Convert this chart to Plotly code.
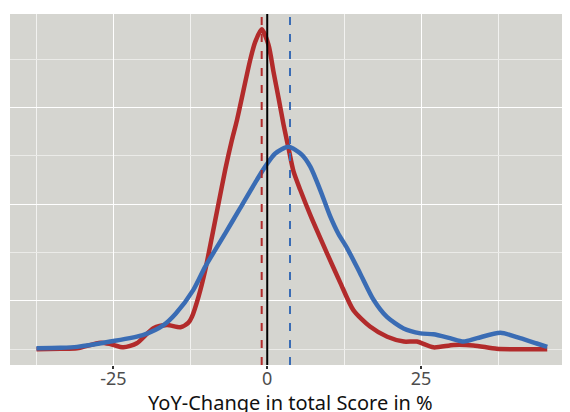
import plotly.graph_objects as go

# Density curve for the red group (x in %, y density)
red_x = [-37.5, -33.6, -30.9, -27.1, -25.5, -23.35, -21.2, -18.5, -16.3, -14.1, -12.8,
         -12.24, -11.16, -10.07, -8.98, -7.91, -6.82, -5.74, -4.92, -2.76, -1.95, -0.9,
         0.21, 1.02, 1.84, 2.65, 3.46, 4.27, 5.36, 6.99, 9.7,
         11.9, 14.0, 16.7, 19.5, 22.2, 24.3, 27.0, 30.3, 33.5, 37.3, 41.0, 45.5]
red_y = [0.0, 0.0001, 0.0002, 0.00137, 0.0011, 0.0004, 0.00124, 0.00435, 0.00503, 0.00455, 0.0055,
         0.0067, 0.0109, 0.0164, 0.0233, 0.0302, 0.0372, 0.0433, 0.0474, 0.0599, 0.0636, 0.0662,
         0.0630, 0.0574, 0.0520, 0.0465, 0.0416, 0.0368, 0.0330, 0.0278, 0.0199,
         0.0137, 0.0081, 0.0047, 0.0026, 0.0016, 0.0016, 0.0004, 0.0009, 0.0008, 0.0001, 0.0, 0.0]

# Density curve for the blue group
blue_x = [-37.5, -33.6, -30.9, -25.5, -20.1, -16.85, -14.85, -12.0, -10.07, -6.82, -4.4, -1.95,
          -0.33, 1.3, 3.46, 5.6, 7.0, 8.6, 10.2, 11.6, 12.95, 15.1, 17.3, 19.45, 22.15, 24.9, 27.0,
          29.7, 31.9, 34.1, 37.9, 41.1, 43.8, 45.5]
blue_y = [0.0002, 0.0003, 0.0005, 0.0016, 0.003, 0.005, 0.0074, 0.0123, 0.0171, 0.024, 0.0292, 0.0345,
          0.0378, 0.0405, 0.0419, 0.0403, 0.0378, 0.0330, 0.0276, 0.0238, 0.0210, 0.0157, 0.0102, 0.0067, 0.0043, 0.0033, 0.0031,
          0.0023, 0.0016, 0.0023, 0.0034, 0.0023, 0.0012, 0.0005]

red_mean = -0.9
blue_mean = 3.7
ref_line = 0

x_ticks = [-25, 0, 25]
x_tick_labels = ["-25", "0", "25"]
x_minor = [-37.5, -12.5, 12.5, 37.5]
y_major = [0.01, 0.03, 0.05]
y_minor = [0.0, 0.02, 0.04, 0.06]
x_title = "YoY-Change in total Score in %"

RED = "#b22b2b"
BLUE = "#3a6cb4"
BG = "#d5d5d0"

fig = go.Figure()
fig.add_trace(go.Scatter(x=red_x, y=red_y, mode="lines",
                         line=dict(color=RED, width=4.5, shape="spline", smoothing=0.7),
                         showlegend=False, hoverinfo="skip"))
fig.add_trace(go.Scatter(x=blue_x, y=blue_y, mode="lines",
                         line=dict(color=BLUE, width=4.5, shape="spline", smoothing=0.7),
                         showlegend=False, hoverinfo="skip"))

fig.add_vline(x=red_mean, line=dict(color=RED, width=2, dash="8px,9px"))
fig.add_vline(x=blue_mean, line=dict(color=BLUE, width=2, dash="8px,9px"))
fig.add_vline(x=ref_line, line=dict(color="black", width=2))

fig.add_annotation(text=x_title, xref="paper", yref="paper", x=0.5, y=-0.106,
                   xanchor="center", yanchor="middle", showarrow=False,
                   font=dict(size=20, color="#111111"))

# the page body adds an 8px offset, so the figure is sized to fill the window
fig.update_layout(
    width=562, height=404,
    margin=dict(l=2, r=0, t=6, b=47),
    paper_bgcolor="white", plot_bgcolor=BG,
    font=dict(family="Noto Sans, Open Sans, sans-serif"),
    xaxis=dict(range=[-41.8, 49.2], tickvals=x_ticks, ticktext=x_tick_labels,
               showgrid=True, gridcolor="white", gridwidth=1.2, zeroline=False,
               ticks="outside", ticklen=3, tickwidth=1.5, tickcolor="#333333",
               tickfont=dict(size=18, color="#4d4d4d"), ticklabelstandoff=-6,
               minor=dict(tickvals=x_minor, showgrid=True, gridcolor="#f2f2f0", gridwidth=0.7, ticks=""),
               showline=False, fixedrange=True),
    yaxis=dict(range=[-0.00325, 0.06938], tickvals=y_major, showticklabels=False, ticks="",
               showgrid=True, gridcolor="white", gridwidth=1.2, zeroline=False,
               minor=dict(tickvals=y_minor, showgrid=True, gridcolor="#ebebe8", gridwidth=0.7, ticks=""),
               showline=False, fixedrange=True),
)

fig.write_html("out.html")
